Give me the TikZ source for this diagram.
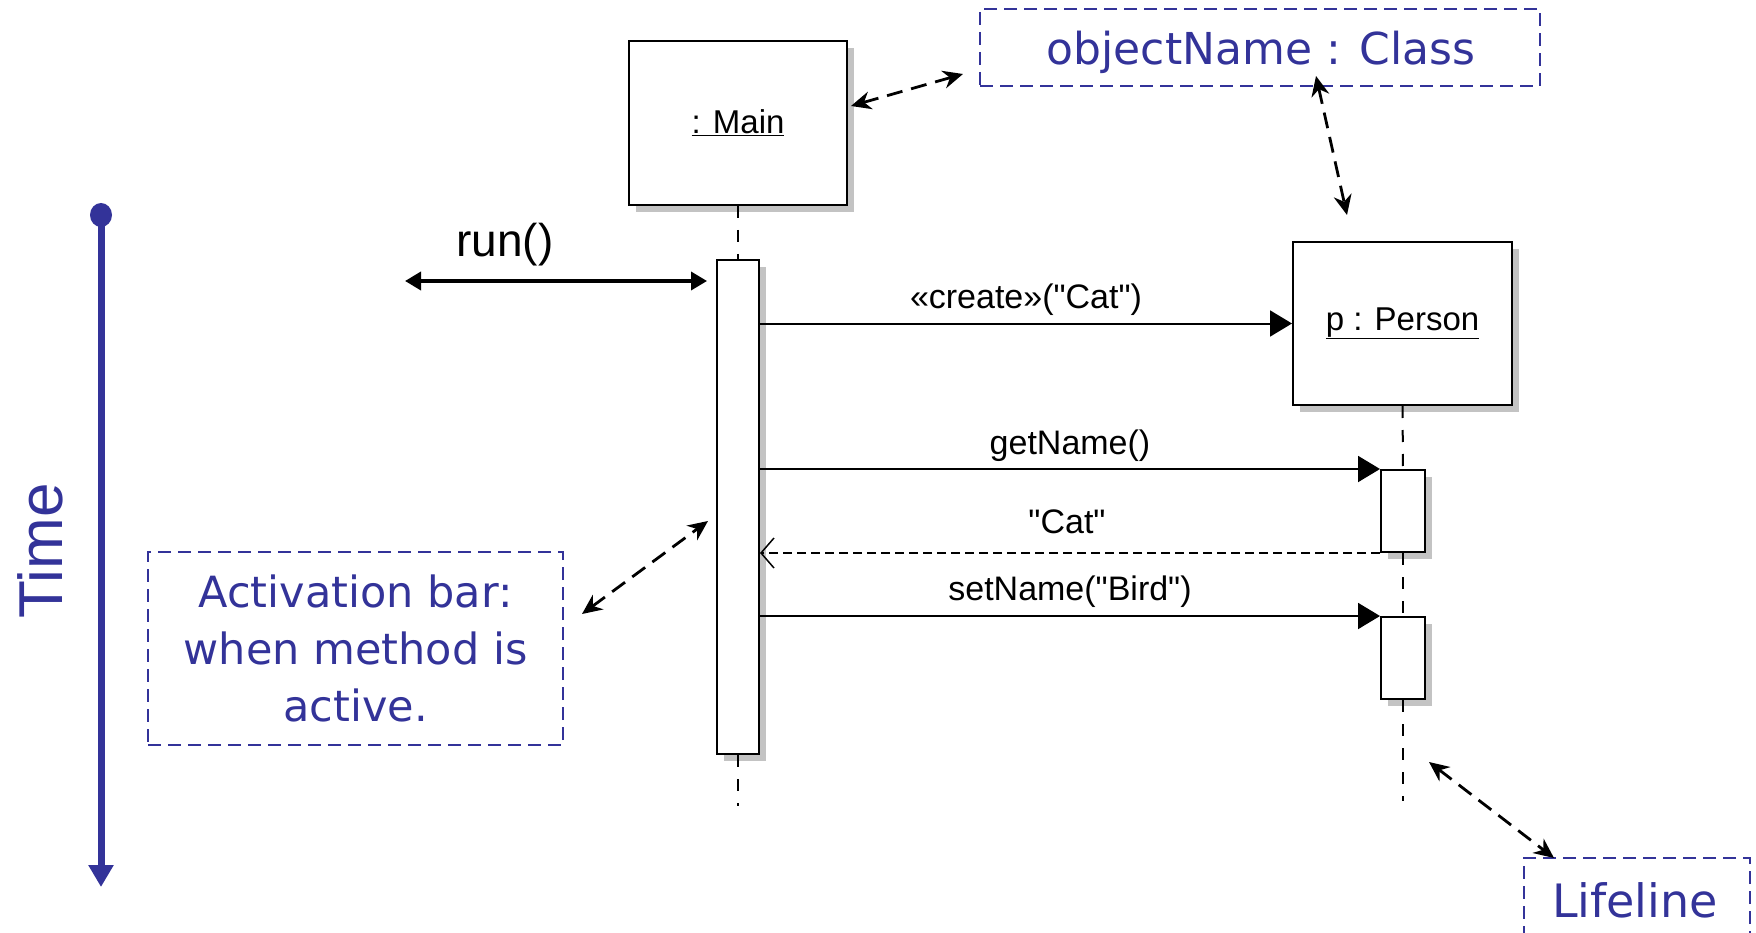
\documentclass[tikz,border=0pt]{standalone}
\usepackage{fontspec}
\usetikzlibrary{arrows.meta,shadows,calc}
\newfontfamily\umlfont{Liberation Sans}
\newfontfamily\notefont{DejaVu Sans}
\definecolor{noteblue}{RGB}{51,51,153}
\definecolor{shadowgray}{RGB}{195,195,195}
\tikzset{
  umlbox/.style={draw=black, line width=2pt, fill=white, inner sep=0pt,
    general shadow={fill=shadowgray, shadow xshift=7pt, shadow yshift=-7pt},
    font=\umlfont\fontsize{33}{36}\selectfont},
  lifeline/.style={draw=black, line width=2pt, dash pattern=on 12pt off 12pt},
  msg/.style={draw=black, line width=2pt, -{Triangle[length=22pt,width=26pt]}},
  retmsg/.style={draw=black, line width=2pt, dash pattern=on 9pt off 5pt,
    -{Straight Barb[length=13pt,width=30pt,line width=1.5pt]}},
  msglabel/.style={font=\umlfont\fontsize{34}{37}\selectfont, inner sep=0pt},
  notebox/.style={draw=noteblue, line width=2pt, dash pattern=on 13pt off 7pt,
    inner sep=0pt, text=noteblue, align=center,
    font=\notefont\fontsize{43}{57}\selectfont},
  notearrow/.style={draw=black, line width=2.8pt, dash pattern=on 16pt off 9pt,
    {Stealth[length=20pt,width=18pt]}-{Stealth[length=20pt,width=18pt]}},
}
\begin{document}
\begin{tikzpicture}[x=1pt,y=-1pt]
\useasboundingbox (0,0) rectangle (1756,933);
\clip (0,0) rectangle (1756,933);
% UML objects
\node[umlbox, minimum width=218pt, minimum height=164pt] (main) at (738,123) {\underline{: Main}};
\node[umlbox, minimum width=219pt, minimum height=163pt] (person) at (1402.5,323.5) {\underline{p : Person}};
% lifelines
\coordinate (mainEnd) at (738,806);
\coordinate (personEnd) at (1403,801);
\node[umlbox, minimum width=42pt, minimum height=494pt] (mainbar) at (738,507) {};
\node[umlbox, minimum width=44pt, minimum height=82pt] (bar1) at (1403,511) {};
\node[umlbox, minimum width=44pt, minimum height=82pt] (bar2) at (1403,658) {};
\draw[lifeline] (main.south) -- (mainbar.north);
\draw[lifeline] (mainbar.south) -- (mainEnd);
\draw[lifeline] (person.south) -- (bar1.north);
\draw[lifeline] (bar1.south) -- (bar2.north);
\draw[lifeline] (bar2.south) -- (personEnd);
% messages
\draw[msg] (mainbar.east |- person.west) -- (person.west);
\node[msglabel] (lcreate) at (1026,300) {«create»("Cat")};
\draw[msg] (mainbar.east |- bar1.north west) -- (bar1.north west);
\node[msglabel] (lget) at (1070,446) {getName()};
\draw[retmsg] (bar1.south west) -- (mainbar.east |- bar1.south west);
\node[msglabel] (lcat) at (1067,522) {"Cat"};
\draw[msg] (mainbar.east |- bar2.north west) -- (bar2.north west);
\node[msglabel] (lset) at (1070,592) {setName("Bird")};
% run()
\coordinate (runStart) at (405,281);
\draw[line width=3.5pt, {Triangle[length=16pt,width=18pt]}-{Triangle[length=16pt,width=18pt]}]
  (runStart) -- ([xshift=-9pt]mainbar.west |- runStart);
\node[font=\umlfont\fontsize{46}{50}\selectfont, inner sep=0pt] (lrun) at (505,245) {run()};
% Time axis
\coordinate (tTop) at (101,215);
\coordinate (tBot) at (101,887);
\draw[noteblue, line width=7pt, -{Triangle[length=22pt,width=24pt]}] (tTop) -- (tBot);
\fill[noteblue] (tTop) ellipse (11pt and 12pt);
\node[rotate=90, text=noteblue, font=\umlfont\fontsize{62}{66}\selectfont, inner sep=0pt] (time) at (40,551) {Time};
% notes
\node[notebox, minimum width=560pt, minimum height=77pt] (objNote) at (1260,47.5) {};
\node[text=noteblue, font=\notefont\fontsize{44}{50}\selectfont, inner sep=0pt] (objText) at (1261,52) {objectName : Class};
\node[notebox, minimum width=415pt, minimum height=193pt] (actNote) at (355.5,648.5) {Activation bar:\\when method is\\active.};
\node[notebox, minimum width=226pt, minimum height=100pt, anchor=north west] (lifeNote) at (1523,857) {};
\node[text=noteblue, font=\notefont\fontsize{46}{50}\selectfont, inner sep=0pt] (lifeText) at (1635,900) {Lifeline};
% annotation arrows
\coordinate (a1s) at (851,106);
\coordinate (a1e) at (963,74);
\draw[notearrow] (a1s) -- (a1e);
\coordinate (a2s) at (1316,76);
\coordinate (a2e) at (1347,215);
\draw[notearrow] (a2s) -- (a2e);
\coordinate (a3s) at (582,614);
\coordinate (a3e) at (708,521);
\draw[notearrow] (a3s) -- (a3e);
\coordinate (a4s) at (1429,762);
\coordinate (a4e) at (1554,858);
\draw[notearrow] (a4s) -- (a4e);
\end{tikzpicture}
\end{document}
